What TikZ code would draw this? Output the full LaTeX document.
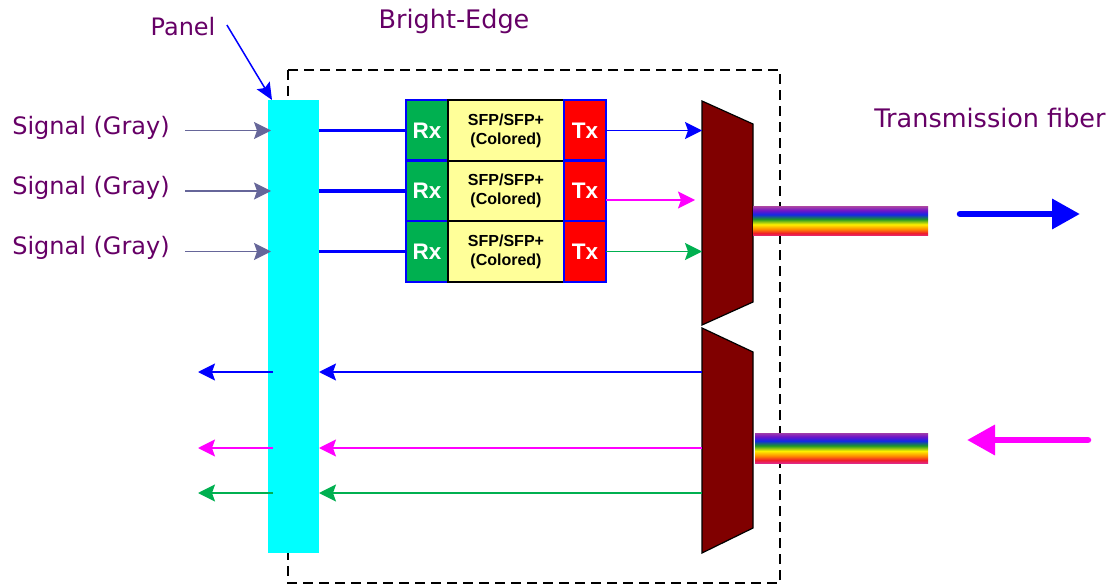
\documentclass[tikz,border=0pt]{standalone}
\usepackage{fontspec}
\setmainfont{DejaVu Sans}
\newfontfamily\arialfont{Liberation Sans}
\usetikzlibrary{positioning,arrows.meta}

\definecolor{lblpurple}{RGB}{102,0,102}
\definecolor{panelcyan}{RGB}{0,255,255}
\definecolor{sigmagenta}{RGB}{255,0,255}
\definecolor{sigblue}{RGB}{0,0,255}
\definecolor{rxgreen}{RGB}{0,176,80}
\definecolor{sfpyellow}{RGB}{255,255,153}
\definecolor{muxred}{RGB}{128,0,0}
\definecolor{sigslate}{RGB}{102,102,153}
\definecolor{rbpink}{RGB}{225,40,130}
\definecolor{rbred}{RGB}{240,30,40}
\definecolor{rborange}{RGB}{255,140,0}
\definecolor{rbyellow}{RGB}{255,240,0}
\definecolor{rbgreen}{RGB}{30,150,40}
\definecolor{rbblue}{RGB}{20,40,230}
\definecolor{rbviolet}{RGB}{110,20,200}
\definecolor{rbpurple}{RGB}{160,60,170}

\pgfdeclareverticalshading{rainbow}{100bp}{color(0bp)=(rbpink); color(25bp)=(rbpink); color(30bp)=(rbred); color(37bp)=(rborange); color(45bp)=(rbyellow); color(54bp)=(rbgreen); color(62bp)=(rbblue); color(69bp)=(rbviolet); color(75bp)=(rbpurple); color(100bp)=(rbpurple)}

\tikzset{
  lbl/.style={text=lblpurple, font=\fontsize{24}{28}\selectfont},
  biglbl/.style={lbl, font=\fontsize{25.5}{28}\selectfont},
  panelbar/.style={fill=panelcyan, minimum width=51pt, minimum height=453pt, inner sep=0pt, outer sep=0pt},
  rxbox/.style={draw=sigblue, line width=2.5pt, fill=rxgreen, minimum width=42pt, minimum height=60.5pt,
    inner sep=0pt, outer sep=0pt, text=white, font=\arialfont\bfseries\fontsize{22.5}{24}\selectfont},
  txbox/.style={rxbox, fill=red},
  sfpbox/.style={draw=black, line width=2.2pt, fill=sfpyellow, minimum width=116pt, minimum height=60.5pt,
    inner sep=0pt, outer sep=0pt, align=center, font=\arialfont\bfseries\fontsize{16}{19}\selectfont},
  mux/.style={draw=black, line width=1.2pt, fill=muxred},
  fiber/.style={shading=rainbow, minimum width=175pt, minimum height=29pt, inner sep=0pt},
  thin arrow/.style={-{Stealth[length=17pt,width=17pt,inset=3pt]}, line width=1.6pt},
  big arrow/.style={-{Triangle[length=28pt,width=29pt]}, line width=6.5pt, line cap=round},
}

\begin{document}
\begin{tikzpicture}[x=1pt,y=-1pt]
    \useasboundingbox (0,0) rectangle (1113,585);

    % box of the device
    \draw[dashed, dash pattern=on 10pt off 6pt, line width=1.5pt] (288,70) rectangle (780,583);

    \node[panelbar] (panel) at (293.5,326.5) {};

    \node[lbl] (paneltext) at (183,27) {Panel};
    \node[biglbl] (brightedge) at (454,21) {Bright-Edge};
    \node[biglbl] (fibertext) at (990,118) {Transmission fiber};

    \draw[-{Stealth[length=17pt,width=15pt,inset=3pt]}, sigblue, line width=1.5pt]
        ([xshift=8pt,yshift=2pt]paneltext.east) -- ([xshift=4pt]panel.north west);

    % transceivers
    \node[rxbox] (rx1) at (427,130.5) {Rx};
    \node[rxbox, below=0pt of rx1] (rx2) {Rx};
    \node[rxbox, below=0pt of rx2] (rx3) {Rx};
    \foreach \i in {1,2,3} {
        \node[sfpbox, right=0pt of rx\i] (sfp\i) {SFP/SFP+\\(Colored)};
        \node[txbox, right=0pt of sfp\i] (tx\i) {Tx};
    }

    \foreach \i/\y in {1/128,2/188,3/248} {
        \node[lbl] (sig\i) at (91,\y) {Signal (Gray)};
        \draw[thin arrow, sigslate, line width=1.3pt] ([xshift=12pt]sig\i.east |- rx\i.west) -- ([xshift=3pt]panel.west |- rx\i.west);
        \draw[sigblue, line width=3.5pt] (panel.east |- rx\i.west) -- (rx\i.west);
    }

    % mux / demux
    \draw[mux] (702,101) -- (753,124) -- (753,302) -- (702,325) -- cycle;
    \draw[mux] (702,328) -- (753,352) -- (753,528) -- (702,553) -- cycle;
    \coordinate (muxtop) at (702,101);

    \draw[thin arrow, sigblue] (tx1.east) -- (tx1.east -| muxtop);
    \draw[thin arrow, sigmagenta] ([yshift=-9pt]tx2.east) -- ([xshift=-7pt,yshift=-9pt]tx2.east -| muxtop);
    \draw[thin arrow, rxgreen] (tx3.east) -- (tx3.east -| muxtop);

    \foreach \c/\y [count=\i] in {sigblue/372, sigmagenta/448, rxgreen/493} {
        \coordinate (ret\i) at (702,\y);
        \draw[thin arrow, \c] (ret\i) -- (ret\i -| panel.east);
        \draw[thin arrow, \c] ([xshift=5pt]ret\i -| panel.west) -- ++(-75,0);
    }

    % fibers
    \node[fiber] (fiberout) at (840.5,221.5) {};
    \node[fiber, minimum width=173pt, minimum height=30pt] (fiberin) at (841.5,448) {};

    \coordinate (sendtail) at (960,214);
    \coordinate (sendtip) at (1080,214);
    \coordinate (recvtail) at (1088,440);
    \coordinate (recvtip) at (967,440);
    \draw[big arrow, sigblue] (sendtail) -- (sendtip);
    \draw[big arrow, sigmagenta] (recvtail) -- (recvtip);
\end{tikzpicture}
\end{document}
